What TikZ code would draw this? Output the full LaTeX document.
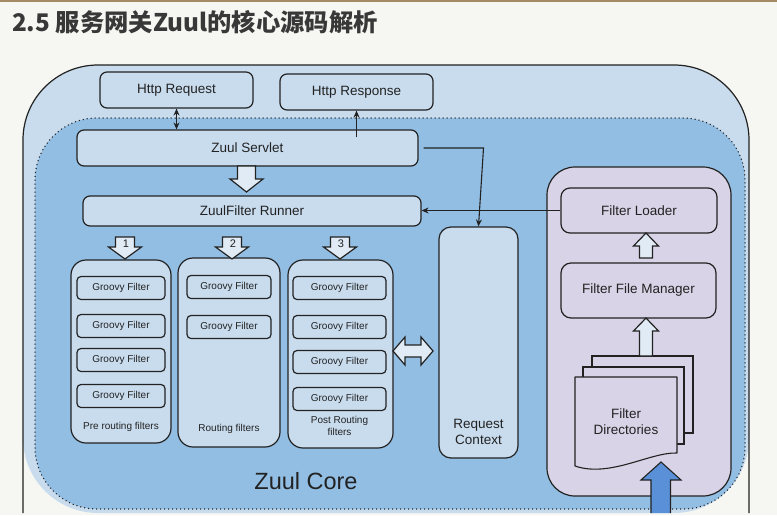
\documentclass[tikz,border=0pt]{standalone}
\usepackage{fontspec}
\setmainfont{Liberation Sans}
\newfontfamily\cjk{Noto Sans CJK SC}
\usetikzlibrary{calc,arrows.meta}
\definecolor{bg}{HTML}{F6F7F2}
\definecolor{outerblue}{HTML}{C9DCEE}
\definecolor{innerblue}{HTML}{93BEE3}
\definecolor{boxblue}{HTML}{C9DCEE}
\definecolor{lilac}{HTML}{D8D3E6}
\definecolor{ink}{HTML}{222222}
\definecolor{arrowblue}{HTML}{5A90D8}
\definecolor{hollow}{HTML}{E1EBF5}
\definecolor{topline}{HTML}{A58A66}
\definecolor{titlegray}{HTML}{383838}
\begin{document}
\begin{tikzpicture}[x=1pt,y=-1pt,
  box/.style={draw=ink, line width=1.2pt, fill=boxblue, rounded corners=7pt, inner sep=0pt,
    font=\fontsize{13.5}{15}\selectfont, text=ink},
  gf/.style={box, rounded corners=4pt, minimum width=88pt, minimum height=23pt,
    font=\fontsize{10}{12}\selectfont},
  grp/.style={box, rounded corners=15pt},
  lbl/.style={font=\fontsize{10}{11.5}\selectfont, text=ink, align=center, inner sep=0pt},
  conn/.style={draw=ink, line width=1.1pt, -{Stealth[length=7pt,width=6pt]}},
  harrow/.style={draw=ink, line width=1.2pt, fill=hollow, line join=miter},
]
\useasboundingbox (0,0) rectangle (777,515);
\fill[bg] (0,0) rectangle (777,515);
\fill[topline] (0,0) rectangle (777,2);

\node[anchor=west, inner sep=0pt, text=titlegray, font=\cjk\bfseries\fontsize{24.3}{28}\selectfont]
  (title) at (12,22) {2.5 服务网关Zuul的核心源码解析};

% outer container
\fill[outerblue, rounded corners=75pt] (23,513) -- (23,65) -- (749,65) -- (749,513) -- cycle;
\draw[ink, line width=1.2pt, rounded corners=75pt] (23,513) -- (23,65) -- (749,65) -- (749,513);

% Zuul core (dotted)
\draw[ink, fill=innerblue, line width=1.5pt, dash pattern=on 0pt off 4pt, line cap=round,
  rounded corners=62pt] (35,118) rectangle (745,509);

% top boxes
\node[box, minimum width=153pt, minimum height=36pt] (req) at (176.5,90) {Http Request};
\node[box, minimum width=153pt, minimum height=36pt] (resp) at (356.5,92) {Http Response};
\node[box, minimum width=341pt, minimum height=36pt] (servlet) at (247.5,148) {Zuul Servlet};
\node[box, minimum width=338pt, minimum height=30pt] (runner) at (252,211) {ZuulFilter Runner};

% request context
\node[box, rounded corners=12pt, minimum width=79pt, minimum height=231pt] (rc) at (478.5,342.5) {};
\node[inner sep=0pt, align=center, font=\fontsize{13.5}{16}\selectfont, text=ink] (rclabel) at (478.5,432) {Request\\Context};

% filter groups
\node[grp, minimum width=100pt, minimum height=183pt] (g1) at (121,351.5) {};
\node[grp, minimum width=102pt, minimum height=189pt] (g2) at (229,352.5) {};
\node[grp, minimum width=105pt, minimum height=188pt] (g3) at (340.5,354) {};

\node[gf] (g1a) at (121,288) {Groovy Filter};
\node[gf] (g1b) at (121,326) {Groovy Filter};
\node[gf] (g1c) at (121,360) {Groovy Filter};
\node[gf] (g1d) at (121,396) {Groovy Filter};
\node[lbl] (g1l) at (121,427) {Pre routing filters};

\node[gf, minimum width=84pt] (g2a) at (229,287) {Groovy Filter};
\node[gf, minimum width=84pt] (g2b) at (229,327) {Groovy Filter};
\node[lbl] (g2l) at (229,429) {Routing filters};

\node[gf, minimum width=93pt] (g3a) at (339.5,288) {Groovy Filter};
\node[gf, minimum width=93pt] (g3b) at (339.5,327) {Groovy Filter};
\node[gf, minimum width=93pt] (g3c) at (339.5,362) {Groovy Filter};
\node[gf, minimum width=93pt] (g3d) at (339.5,399) {Groovy Filter};
\node[lbl] (g3l) at (339.5,426) {Post Routing\\filters};

% loader panel
\node[box, fill=lilac, rounded corners=28pt, minimum width=184pt, minimum height=329pt] (panel) at (639,331.5) {};
\node[box, fill=lilac, rounded corners=9pt, minimum width=156pt, minimum height=45pt] (loader) at (639,210.5) {Filter Loader};
\node[box, fill=lilac, rounded corners=10pt, minimum width=155pt, minimum height=55pt] (ffm) at (638.5,290.5) {Filter File Manager};

% filter directories (document stack)
\draw[ink, fill=lilac, line width=1.1pt] (592,356) rectangle (693,433);
\draw[ink, fill=lilac, line width=1.1pt] (583,367) rectangle (684,444);
\draw[ink, fill=lilac, line width=1.1pt, line join=round]
  (575,377) -- (677,377) -- (677,453) .. controls (650,452) and (610,478) .. (575,466) -- cycle;
\node[inner sep=0pt, align=center, font=\fontsize{13.5}{16}\selectfont, text=ink] (dirs) at (626,422) {Filter\\Directories};

% blue input arrow
\draw[ink, fill=arrowblue, line width=1.1pt, line join=miter]
  (651,513) -- (651,480) -- (641,480) -- (661,462) -- (681,480) -- (670.5,480) -- (670.5,513);

% connectors
\draw[conn, {Stealth[length=7pt,width=6pt]}-{Stealth[length=7pt,width=6pt]}] (req.south) -- (req.south |- servlet.north);
\draw[conn] ($(servlet.north -| resp.south)+(0,8)$) -- (resp.south);
\draw[conn] ([xshift=5pt]servlet.east) -- ([xshift=5pt]servlet.east -| rc.north) -- (rc.north);
\draw[conn] (loader.west) -- (loader.west -| runner.east);

% hollow arrows
\draw[harrow] (237.5,166) -- (255.5,166) -- (255.5,179) -- (263,179) -- (246.5,192) -- (230,179) -- (237.5,179) -- cycle;
\foreach \x/\n in {125/1, 232/2, 340/3} {
  \draw[harrow] (\x-9.5,237) -- (\x+9.5,237) -- (\x+9.5,247) -- (\x+16.5,247) -- (\x,259) -- (\x-16.5,247) -- (\x-9.5,247) -- cycle;
  \node[inner sep=0pt, font=\fontsize{11}{12}\selectfont, text=ink] at (\x+1,243.5) {\n};
}
\draw[harrow] (646,233) -- (658.5,246) -- (652.5,246) -- (652.5,258) -- (639.5,258) -- (639.5,246) -- (633.5,246) -- cycle;
\draw[harrow] (646,318) -- (658.5,331) -- (652.5,331) -- (652.5,356) -- (639.5,356) -- (639.5,331) -- (633.5,331) -- cycle;
\draw[harrow] (393,351) -- (405,337) -- (405,345) -- (421,345) -- (421,337) -- (433,351) -- (421,365) -- (421,357) -- (405,357) -- (405,365) -- cycle;

% core label
\node[inner sep=0pt, font=\fontsize{23.5}{26}\selectfont, text=ink] (core) at (306,481) {Zuul Core};
\end{tikzpicture}
\end{document}
